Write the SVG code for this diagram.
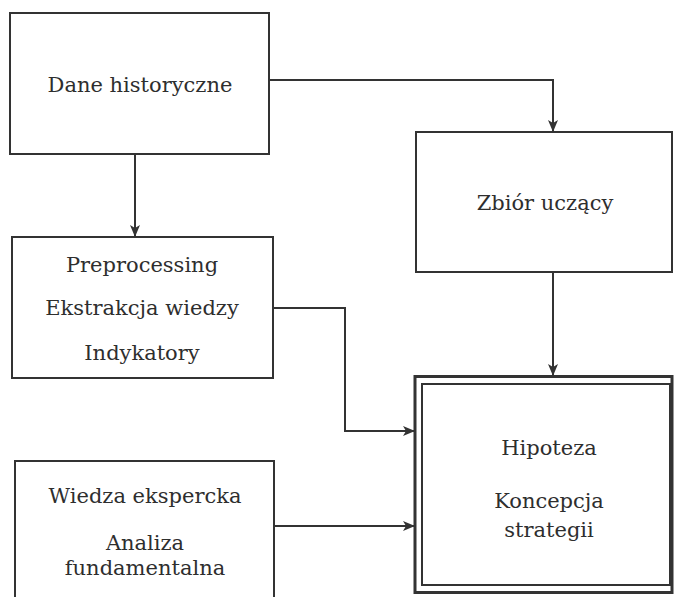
<svg xmlns="http://www.w3.org/2000/svg" width="674" height="597" viewBox="0 0 674 597">
<style>
.box{fill:#fff;stroke:#333;stroke-width:2}
.t{font-family:"DejaVu Serif","Liberation Serif",serif;font-size:21px;fill:#2e2e2e;text-anchor:middle}
.c{fill:none;stroke:#333;stroke-width:2}
</style>
<defs>
<marker id="ah" markerWidth="12" markerHeight="10" refX="11" refY="5" orient="auto" markerUnits="userSpaceOnUse">
<path d="M0,0 L12,5 L0,10 L3,5 z" fill="#333"/>
</marker>
</defs>
<rect width="674" height="597" fill="#fff"/>
<g id="dane">
<rect class="box" x="10" y="13" width="259" height="141"/>
<text class="t" x="140" y="92">Dane historyczne</text>
</g>
<g id="zbior">
<rect class="box" x="416" y="132" width="256" height="140"/>
<text class="t" x="545" y="210">Zbiór uczący</text>
</g>
<g id="preprocessing">
<rect class="box" x="12" y="237" width="261" height="141"/>
<text class="t" x="142" y="272">Preprocessing</text>
<text class="t" x="142" y="315">Ekstrakcja wiedzy</text>
<text class="t" x="142" y="360">Indykatory</text>
</g>
<g id="wiedza">
<rect class="box" x="15" y="461" width="259" height="150"/>
<text class="t" x="145" y="503">Wiedza ekspercka</text>
<text class="t" x="145" y="550">Analiza</text>
<text class="t" x="145" y="575">fundamentalna</text>
</g>
<g id="hipoteza">
<rect x="415" y="376.5" width="257" height="216" fill="#fff" stroke="#333" stroke-width="3"/>
<rect x="422" y="384" width="248" height="201" fill="none" stroke="#333" stroke-width="2"/>
<text class="t" x="549" y="455">Hipoteza</text>
<text class="t" x="549" y="508">Koncepcja</text>
<text class="t" x="549" y="537">strategii</text>
</g>
<g id="connectors">
<path class="c" d="M269,80 H553 V131" marker-end="url(#ah)"/>
<path class="c" d="M135,154 V236" marker-end="url(#ah)"/>
<path class="c" d="M553,272 V375" marker-end="url(#ah)"/>
<path class="c" d="M273,308 H345 V431 H414" marker-end="url(#ah)"/>
<path class="c" d="M274,526 H414" marker-end="url(#ah)"/>
</g>
</svg>
